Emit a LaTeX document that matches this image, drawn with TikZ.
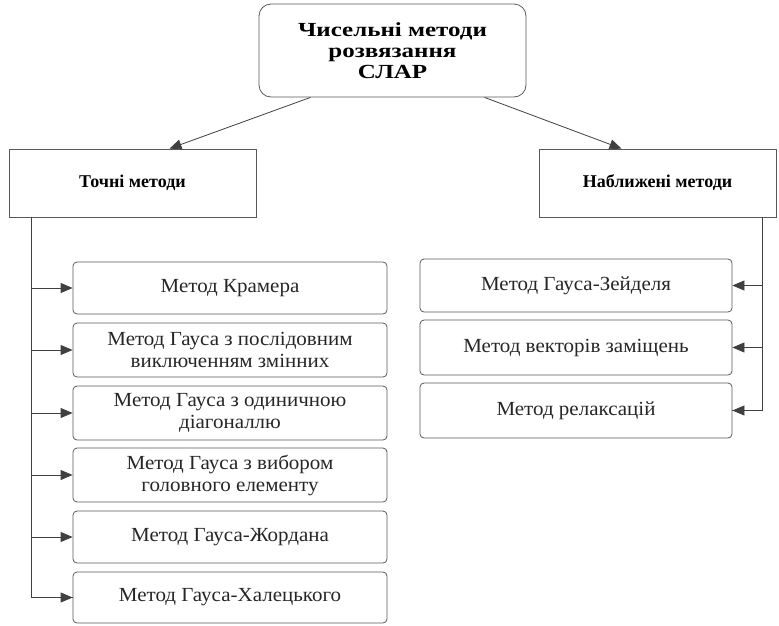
\documentclass[tikz,border=0pt]{standalone}
\usepackage{fontspec}
\setmainfont{Liberation Serif}
\newfontfamily\titlefont[FakeStretch=1.25]{Liberation Serif}
\newfontfamily\methodfont[FakeStretch=1.05]{Liberation Serif}
\usetikzlibrary{arrows.meta}
\begin{document}
\begin{tikzpicture}[x=1pt,y=-1pt,
  boxline/.style={draw=black!65, line width=0.8pt},
  titlebox/.style={boxline, rounded corners=12pt, align=center, inner sep=0pt,
    font=\titlefont\fontsize{20}{21}\selectfont\bfseries},
  groupbox/.style={boxline, align=center, inner sep=0pt,
    font=\fontsize{18}{21}\selectfont\bfseries},
  methodbox/.style={boxline, rounded corners=4pt, align=center, inner sep=0pt,
    text=black!85, font=\methodfont\fontsize{20}{22}\selectfont},
  conn/.style={draw=black!75, line width=0.8pt},
  arr/.style={conn, -{Triangle[length=12pt,width=10pt]}}]
\useasboundingbox (0,0) rectangle (779,625);

\node[titlebox, minimum width=267pt, minimum height=93pt] (top) at (392.5,50.5)
  {Чисельні методи\\розвязання\\СЛАР};
\node[groupbox, minimum width=247pt, minimum height=68pt] (tochni) at (132.5,183) {Точні методи};
\node[groupbox, minimum width=237pt, minimum height=68pt] (nabl) at (657.5,183) {Наближені методи};

\tikzset{lm/.style={methodbox, minimum width=314pt}, rm/.style={methodbox, minimum width=312pt}}
\node[lm, minimum height=52pt] (L1) at (230,288) {Метод Крамера};
\node[lm, minimum height=54pt] (L2) at (230,350) {Метод Гауса з послідовним\\виключенням змінних};
\node[lm, minimum height=54pt] (L3) at (230,413) {Метод Гауса з одиничною\\діагоналлю};
\node[lm, minimum height=54pt] (L4) at (230,475) {Метод Гауса з вибором\\головного елементу};
\node[lm, minimum height=52pt] (L5) at (230,537) {Метод Гауса-Жордана};
\node[lm, minimum height=51pt] (L6) at (230,597.5) {Метод Гауса-Халецького};

\node[rm, minimum height=53pt] (R1) at (576,285.5) {Метод Гауса-Зейделя};
\node[rm, minimum height=55pt] (R2) at (576,347.5) {Метод векторів заміщень};
\node[rm, minimum height=55pt] (R3) at (576,410.5) {Метод релаксацій};

\draw[arr] ([xshift=-82pt]top.south) -- ([xshift=37pt]tochni.north);
\draw[arr] ([xshift=92pt]top.south) -- ([xshift=-36pt]nabl.north);

\coordinate (ltop) at ([xshift=23pt]tochni.south west);
\draw[conn] (ltop) |- (L6.west);
\foreach \n in {L1,L2,L3,L4,L5,L6}
  \draw[arr] (ltop |- \n.west) -- (\n.west);

\coordinate (rtop) at ([xshift=-14pt]nabl.south east);
\draw[conn] (rtop) |- (R3.east);
\foreach \n in {R1,R2,R3}
  \draw[arr] (rtop |- \n.east) -- (\n.east);
\end{tikzpicture}
\end{document}
